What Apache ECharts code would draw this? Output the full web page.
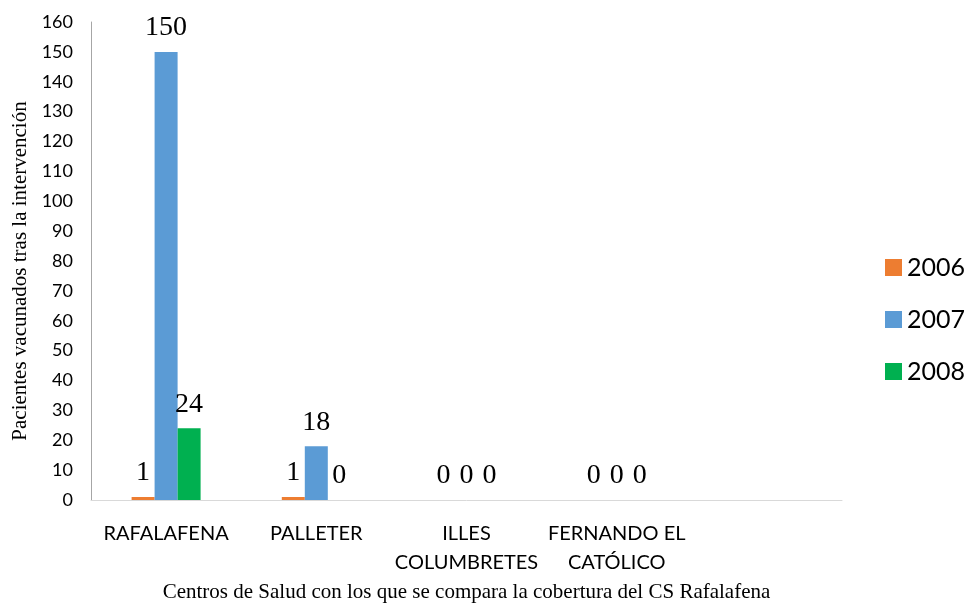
<!DOCTYPE html>
<html>
<head>
<meta charset="utf-8">
<script src="https://cdn.jsdelivr.net/npm/echarts@6/dist/echarts.min.js"></script>
<style>
  html, body { margin: 0; padding: 0; background: #fff; }
  #chart { width: 970px; height: 606px; }
</style>
</head>
<body>
<div id="chart"></div>
<script>
'use strict';

// ── Data ──────────────────────────────────────────────────────────────────────
const centros = ['RAFALAFENA', 'PALLETER', 'ILLES\nCOLUMBRETES', 'FERNANDO EL\nCATÓLICO', ''];
const years   = ['2006', '2007', '2008'];
const v2006   = [1, 1, 0, 0, null];
const v2007   = [150, 18, 0, 0, null];
const v2008   = [24, 0, 0, 0, null];
const colors  = ['#ED7D31', '#5B9BD5', '#00B050'];

const sans  = 'Lato, "Open Sans", sans-serif';
const serif = '"Liberation Serif", "Times New Roman", serif';

// ── Chart ─────────────────────────────────────────────────────────────────────
const chart = echarts.init(document.getElementById('chart'), null, { renderer: 'canvas' });

const makeSeries = (name, data, color) => ({
  name,
  type:     'bar',
  data,
  barWidth: 23,
  barGap:   '0%',
  itemStyle: { color },
  label: {
    show:       true,
    position:   'top',
    distance:   10,
    fontFamily: serif,
    fontSize:   28,
    color:      '#000',
  },
});

chart.setOption({
  backgroundColor: '#fff',
  animation: false,
  grid: { left: 91, right: 128, top: 22, bottom: 106, containLabel: false, outerBoundsMode: 'none' },
  legend: {
    orient:     'vertical',
    left:       880,
    top:        250,
    itemWidth:  17,
    itemHeight: 17,
    itemGap:    27,
    icon:       'rect',
    textStyle:  { fontFamily: sans, fontSize: 25, color: '#000' },
    data:       years,
  },
  xAxis: {
    type: 'category',
    data: centros,
    axisLine:  { lineStyle: { color: '#d9d9d9', width: 1 } },
    axisTick:  { show: false },
    axisLabel: { fontFamily: sans, fontSize: 20, color: '#000', margin: 19, lineHeight: 29, interval: 0 },
    name:          'Centros de Salud con los que se compara la cobertura del CS Rafalafena',
    nameLocation:  'middle',
    nameGap:       81,
    nameTextStyle: { fontFamily: serif, fontSize: 21, color: '#000' },
  },
  yAxis: {
    type:     'value',
    min:      0,
    max:      160,
    interval: 10,
    axisLine:  { show: true, lineStyle: { color: '#a6a6a6', width: 1 } },
    axisTick:  { show: false },
    splitLine: { show: false },
    axisLabel: { fontFamily: sans, fontSize: 18, color: '#000', margin: 18 },
    name:          'Pacientes vacunados tras la intervención',
    nameLocation:  'middle',
    nameGap:       58,
    nameTextStyle: { fontFamily: serif, fontSize: 21, color: '#000', padding: [0, 20, 0, 0] },
  },
  series: [
    makeSeries(years[0], v2006, colors[0]),
    makeSeries(years[1], v2007, colors[1]),
    makeSeries(years[2], v2008, colors[2]),
  ],
});
</script>
</body>
</html>
